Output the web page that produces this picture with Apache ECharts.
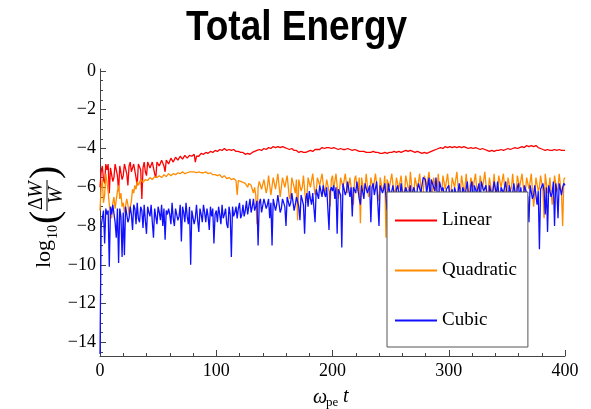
<!DOCTYPE html>
<html><head><meta charset="utf-8">
<script src="https://cdn.jsdelivr.net/npm/echarts@6/dist/echarts.min.js"></script>
<style>html,body{margin:0;padding:0;background:#fff}#c{width:591px;height:409px}</style>
</head><body><div id="c"></div>
<script>
const titleText = 'Total Energy';
const seriesNames = ['Linear', 'Quadratic', 'Cubic'];
const seriesColors = ['#ff0000', '#ff8c00', '#1010ff'];
const tStep = 1; // sample spacing in ω_pe t
const linear = [
-6.0,-5.2,-4.9,-5.6,-5.8,-4.8,-5.1,-4.8,-6.3,-5.0,-4.9,-5.7,-5.5,-4.8,-4.7,-5.4,-6.2,-4.9,-4.8,-5.6,
-5.4,-4.8,-4.7,-5.3,-5.9,-4.9,-4.7,-5.2,-5.3,-4.8,-4.8,-5.5,-5.9,-4.8,-4.7,-5.1,-6.6,-5.0,-4.7,-5.2,
-5.4,-4.7,-4.6,-5.0,-5.0,-4.7,-4.7,-5.3,-5.5,-4.7,-4.6,-4.9,-4.9,-4.6,-4.5,-4.9,-5.2,-4.6,-4.5,-4.8,
-4.8,-4.5,-4.4,-4.7,-4.7,-4.45,-4.4,-4.6,-4.6,-4.4,-4.35,-4.55,-4.5,-4.35,-4.3,-4.5,-4.45,-4.35,-4.3,-4.4,
-4.4,-4.3,-4.7,-4.4,-4.3,-4.4,-4.35,-4.25,-4.2,-4.3,-4.25,-4.2,-4.15,-4.25,-4.2,-4.15,-4.1,-4.2,-4.15,-4.1,
-4.05,-4.15,-4.15,-4.05,-4.05,-4.1,-4.1,-4.0,-4.0,-4.1,-4.1,-4.05,-4.05,-4.1,-4.1,-4.05,-4.1,-4.15,-4.2,-4.15,
-4.15,-4.2,-4.25,-4.2,-4.2,-4.3,-4.3,-4.25,-4.35,-4.3,-4.25,-4.2,-4.2,-4.15,-4.15,-4.1,-4.1,-4.05,-4.05,-4.1,
-4.1,-4.0,-4.0,-4.05,-4.05,-3.95,-3.95,-4.0,-4.0,-3.9,-3.9,-3.95,-3.95,-3.9,-3.9,-3.95,-3.95,-3.9,-3.9,-3.95,
-3.95,-4.0,-4.0,-4.05,-4.05,-4.0,-4.1,-4.1,-4.15,-4.1,-4.15,-4.2,-4.2,-4.15,-4.25,-4.2,-4.25,-4.2,-4.2,-4.15,
-4.15,-4.1,-4.1,-4.15,-4.15,-4.05,-4.1,-4.05,-4.0,-4.05,-4.0,-3.95,-4.0,-4.0,-3.95,-3.95,-4.0,-3.95,-3.95,-4.0,
-4.0,-3.95,-3.95,-4.0,-4.0,-4.05,-3.95,-4.0,-4.0,-4.05,-4.0,-4.05,-4.05,-4.0,-4.1,-4.05,-4.05,-4.1,-4.1,-4.05,
-4.1,-4.1,-4.05,-4.15,-4.1,-4.15,-4.1,-4.15,-4.15,-4.2,-4.1,-4.2,-4.15,-4.2,-4.2,-4.15,-4.2,-4.2,-4.15,-4.2,
-4.2,-4.25,-4.2,-4.25,-4.25,-4.2,-4.2,-4.25,-4.15,-4.2,-4.15,-4.2,-4.2,-4.15,-4.15,-4.2,-4.2,-4.15,-4.15,-4.2,
-4.2,-4.15,-4.15,-4.1,-4.1,-4.15,-4.15,-4.1,-4.1,-4.15,-4.15,-4.2,-4.2,-4.15,-4.15,-4.2,-4.2,-4.25,-4.25,-4.2,
-4.2,-4.25,-4.25,-4.2,-4.2,-4.15,-4.15,-4.1,-4.1,-4.05,-4.05,-4.0,-4.0,-3.95,-3.95,-4.0,-4.0,-3.9,-3.9,-3.95,
-3.95,-3.9,-3.9,-3.95,-3.95,-3.9,-3.9,-3.95,-3.95,-3.9,-3.9,-3.95,-3.95,-3.9,-3.9,-3.95,-3.95,-4.0,-4.0,-3.95,
-3.95,-4.0,-4.0,-3.95,-3.95,-4.0,-4.0,-4.05,-4.05,-4.0,-4.0,-4.05,-4.05,-4.1,-4.1,-4.15,-4.15,-4.1,-4.1,-4.15,
-4.15,-4.1,-4.1,-4.1,-4.1,-4.05,-4.05,-4.1,-4.1,-4.05,-4.05,-4.0,-4.0,-4.05,-4.05,-4.0,-4.0,-3.95,-3.95,-4.0,
-4.0,-3.95,-3.95,-3.9,-3.9,-3.95,-3.95,-3.85,-3.85,-3.9,-3.9,-3.85,-3.85,-3.9,-3.9,-3.85,-3.85,-3.95,-3.95,-4.0,
-4.0,-4.05,-4.05,-4.1,-4.1,-4.05,-4.05,-4.1,-4.1,-4.1,-4.1,-4.05,-4.05,-4.1,-4.1,-4.05,-4.05,-4.1,-4.1,-4.1,
-4.1];
const quadratic = [
-7.2,-6.0,-5.6,-6.8,-6.4,-5.3,-5.4,-6.2,-6.9,-7.3,-7.6,-6.8,-6.5,-7.1,-7.0,-6.2,-5.9,-6.6,-6.3,-7.0,
-6.8,-7.3,-7.2,-6.6,-6.9,-7.4,-7.3,-6.7,-6.1,-6.3,-5.9,-6.1,-5.7,-5.9,-5.8,-5.6,-5.6,-5.75,-5.65,-5.6,
-5.55,-5.65,-5.6,-5.5,-5.5,-5.6,-5.55,-5.45,-5.45,-5.5,-5.5,-5.4,-5.4,-5.5,-5.45,-5.35,-5.35,-5.45,-5.4,-5.3,
-5.3,-5.4,-5.35,-5.3,-5.3,-5.35,-5.3,-5.25,-5.25,-5.3,-5.3,-5.2,-5.25,-5.3,-5.2,-5.25,-5.25,-5.2,-5.25,-5.2,
-5.25,-5.2,-5.2,-5.25,-5.25,-5.2,-5.2,-5.25,-5.2,-5.25,-5.25,-5.2,-5.25,-5.3,-5.3,-5.25,-5.3,-5.35,-5.3,-5.35,
-5.35,-5.4,-5.4,-5.35,-5.45,-5.5,-5.45,-5.4,-5.5,-5.55,-5.55,-5.5,-5.5,-5.6,-5.6,-5.55,-5.6,-5.65,-6.4,-5.65,
-5.65,-5.7,-5.7,-5.75,-5.75,-5.8,-5.9,-6.0,-5.8,-5.85,-5.9,-6.1,-6.3,-6.0,-6.4,-7.9,-6.0,-5.7,-5.6,-6.1,
-6.2,-5.6,-5.5,-6.3,-6.0,-5.4,-5.5,-6.4,-6.4,-5.5,-5.5,-6.1,-6.1,-5.3,-5.4,-6.5,-6.5,-5.5,-5.4,-6.0,
-5.9,-5.4,-5.5,-6.6,-6.4,-5.5,-5.6,-6.0,-6.3,-5.6,-7.7,-5.6,-5.5,-6.2,-6.0,-5.4,-5.5,-6.8,-6.5,-5.5,
-5.5,-6.0,-6.1,-5.3,-5.4,-6.4,-6.2,-5.5,-5.5,-5.9,-6.0,-5.3,-5.3,-6.3,-6.1,-5.6,-5.5,-6.2,-7.0,-5.6,
-5.4,-6.1,-6.0,-5.3,-5.4,-6.6,-6.2,-5.5,-5.4,-6.0,-6.1,-5.3,-5.3,-6.3,-6.2,-5.5,-5.5,-6.5,-6.9,-5.6,
-5.4,-6.0,-6.2,-5.5,-7.85,-5.5,-5.4,-6.2,-6.0,-5.3,-5.3,-6.5,-6.3,-5.5,-5.5,-6.1,-6.0,-5.3,-5.3,-6.4,
-6.7,-5.5,-5.5,-6.2,-6.0,-5.4,-8.6,-5.6,-5.6,-6.0,-6.1,-5.3,-5.3,-6.4,-6.2,-5.5,-5.5,-6.1,-6.0,-5.4,
-5.3,-6.6,-6.3,-5.4,-5.4,-6.0,-6.2,-5.2,-5.3,-6.5,-6.3,-5.5,-5.5,-6.1,-6.0,-5.3,-5.3,-6.8,-6.4,-5.4,
-5.4,-6.0,-6.1,-5.2,-5.3,-6.4,-6.2,-5.5,-5.5,-6.2,-6.0,-5.3,-5.3,-6.9,-6.3,-5.4,-5.4,-6.1,-6.0,-5.3,
-5.3,-6.5,-6.2,-5.5,-5.5,-6.0,-6.1,-5.2,-5.3,-6.7,-6.3,-5.4,-5.4,-6.2,-6.0,-5.3,-5.3,-6.6,-6.2,-5.5,
-5.5,-6.0,-6.1,-5.3,-5.3,-6.8,-6.3,-5.4,-5.4,-6.1,-6.0,-5.2,-5.2,-6.5,-6.2,-5.5,-5.5,-6.3,-6.1,-5.3,
-5.3,-7.0,-6.2,-5.4,-5.4,-6.0,-6.1,-5.3,-5.3,-6.6,-6.3,-5.5,-5.5,-6.2,-6.0,-5.3,-5.3,-6.8,-6.3,-5.4,
-5.4,-6.0,-6.1,-5.3,-5.3,-6.5,-6.2,-5.5,-5.5,-6.1,-6.0,-5.3,-5.3,-7.0,-6.4,-5.5,-5.5,-6.2,-6.0,-5.4,
-5.4,-6.2,-7.6,-5.3,-5.3,-6.3,-6.1,-5.5,-5.5,-6.9,-6.3,-5.4,-5.4,-6.2,-6.0,-5.3,-5.3,-6.4,-8.0,-5.6,
-5.5];
const cubic = [
-14.6,-8.0,-7.6,-7.2,-8.9,-7.1,-7.4,-7.2,-10.1,-7.0,-7.4,-6.9,-7.0,-7.8,-8.6,-7.1,-9.9,-7.1,-7.5,-9.6,
-7.3,-9.5,-7.0,-6.9,-7.8,-7.6,-7.0,-7.4,-8.2,-6.9,-7.1,-7.9,-6.8,-7.6,-7.8,-7.0,-7.2,-8.1,-6.9,-7.7,
-8.4,-7.0,-7.3,-7.5,-6.9,-7.8,-8.6,-7.1,-7.2,-7.9,-7.0,-7.3,-7.7,-6.9,-8.0,-7.1,-8.7,-7.2,-7.4,-7.1,
-7.4,-7.9,-6.8,-7.6,-8.0,-7.1,-7.2,-7.7,-7.5,-6.9,-8.8,-7.0,-7.3,-7.8,-6.8,-7.5,-7.9,-7.0,-10.0,-7.2,
-7.2,-7.9,-7.6,-6.9,-7.7,-8.3,-7.1,-7.4,-7.8,-6.9,-7.3,-7.8,-7.1,-7.5,-8.2,-7.0,-7.5,-7.1,-8.9,-7.4,
-7.2,-7.8,-7.0,-7.4,-7.9,-6.9,-7.6,-7.4,-7.1,-7.9,-8.1,-7.0,-7.4,-9.6,-7.0,-7.5,-7.3,-7.0,-7.6,-7.1,
-6.8,-7.6,-7.4,-6.9,-7.5,-7.2,-6.7,-7.4,-7.0,-6.6,-7.3,-7.0,-6.6,-7.2,-7.0,-6.7,-9.0,-6.8,-6.6,-7.3,
-7.2,-6.6,-6.5,-7.1,-6.9,-6.6,-7.6,-6.8,-9.0,-6.6,-6.6,-7.2,-6.9,-6.4,-6.5,-7.3,-7.1,-6.6,-6.5,-7.0,
-8.0,-6.5,-6.5,-7.0,-6.8,-6.3,-6.4,-7.2,-6.9,-6.5,-6.5,-7.0,-7.7,-6.4,-6.4,-6.9,-8.4,-6.6,-6.3,-7.0,
-6.2,-6.6,-6.9,-6.3,-6.4,-7.8,-6.1,-6.2,-6.6,-5.9,-6.0,-6.5,-5.9,-6.3,-6.5,-6.0,-6.0,-8.2,-6.2,-6.0,
-6.2,-5.9,-6.6,-6.0,-8.4,-6.1,-6.0,-6.4,-9.1,-5.8,-5.8,-6.4,-6.2,-5.7,-5.8,-6.5,-6.0,-7.5,-6.0,-5.9,
-6.3,-5.7,-5.8,-6.6,-6.9,-5.9,-5.9,-6.6,-5.8,-5.8,-6.3,-6.4,-5.9,-7.8,-6.0,-5.8,-6.4,-6.3,-5.7,-5.8,
-8.0,-5.9,-5.8,-6.3,-6.1,-5.8,-6.5,-7.2,-5.8,-5.9,-6.5,-6.2,-5.9,-6.4,-7.0,-6.1,-5.9,-6.3,-6.5,-5.8,
-5.8,-6.8,-6.3,-6.0,-5.9,-6.4,-6.2,-5.9,-7.1,-6.2,-6.0,-6.0,-6.6,-6.1,-5.8,-5.7,-6.3,-6.2,-5.5,-5.6,
-5.6,-6.3,-6.2,-5.5,-6.8,-5.6,-5.6,-6.0,-6.2,-5.5,-5.6,-7.0,-5.7,-5.8,-6.2,-6.0,-5.9,-6.6,-6.1,-6.1,
-5.9,-6.6,-6.3,-6.1,-7.3,-6.0,-6.0,-6.5,-6.2,-5.8,-5.9,-6.9,-6.0,-6.0,-6.4,-6.3,-5.7,-5.8,-7.2,-5.9,
-5.7,-7.2,-5.9,-6.0,-6.3,-6.2,-5.8,-6.8,-5.7,-5.7,-6.2,-6.3,-5.9,-6.0,-7.5,-5.9,-5.8,-6.4,-6.2,-5.7,
-5.8,-6.4,-5.7,-5.8,-6.9,-6.0,-6.0,-6.3,-6.2,-5.7,-5.8,-7.1,-5.9,-5.9,-6.5,-6.3,-5.8,-5.9,-6.7,-6.0,
-5.8,-6.7,-6.0,-6.1,-7.4,-5.9,-5.9,-6.3,-6.5,-7.8,-5.9,-5.8,-6.6,-6.4,-5.9,-6.0,-6.9,-6.2,-9.2,-6.1,
-6.1,-5.8,-6.2,-7.4,-6.0,-8.3,-5.9,-5.9,-6.5,-6.3,-5.7,-8.0,-5.8,-6.2,-7.6,-5.8,-5.9,-6.4,-6.0,-5.8,
-5.9];
const xTicks = [0, 100, 200, 300, 400];
const yTicks = [0, -2, -4, -6, -8, -10, -12, -14];
const yMinorTicks = [-0.5, -1, -1.5, -2.5, -3, -3.5, -4.5, -5, -5.5, -6.5, -7, -7.5,
  -8.5, -9, -9.5, -10.5, -11, -11.5, -12.5, -13, -13.5, -14.5];

const serif = '"Liberation Serif", "Times New Roman", serif';
const axisColor = '#444';

function pairs(arr) { return arr.map((v, i) => [i * tStep, v]); }
const allSeries = [linear, quadratic, cubic];

const chart = echarts.init(document.getElementById('c'), null, { renderer: 'canvas' });
chart.setOption({
  animation: false,
  backgroundColor: '#fff',
  grid: { left: 100, right: 26, top: 69, bottom: 53, containLabel: false },
  xAxis: {
    type: 'value', min: xTicks[0], max: xTicks[xTicks.length - 1], interval: 100,
    axisLine: { onZero: false, lineStyle: { color: axisColor, width: 1 } },
    axisTick: { inside: true, length: 6, lineStyle: { color: axisColor } },
    minorTick: { show: true, splitNumber: 5, length: 3, lineStyle: { color: axisColor } },
    splitLine: { show: false },
    axisLabel: { fontFamily: serif, fontSize: 18, color: '#000', margin: 6 }
  },
  yAxis: [{
    type: 'value', min: -14.7, max: 0.1,
    axisLine: { show: true, onZero: false, lineStyle: { color: axisColor, width: 1 } },
    axisTick: { show: true, inside: true, length: 6, customValues: yTicks, lineStyle: { color: axisColor } },
    splitLine: { show: false },
    axisLabel: {
      customValues: yTicks, fontFamily: serif, fontSize: 18, color: '#000', margin: 4,
      formatter: v => (v === 0 ? '0' : '\u2212' + Math.abs(v))
    }
  }, {
    type: 'value', min: -14.7, max: 0.1, position: 'left',
    axisLine: { show: false, onZero: false },
    axisTick: { show: true, inside: true, length: 3, customValues: yMinorTicks, lineStyle: { color: axisColor } },
    axisLabel: { show: false },
    splitLine: { show: false }
  }],
  legend: {
    orient: 'vertical', left: 387, top: 192, z: 10,
    itemWidth: 42, itemHeight: 14, itemGap: 31,
    padding: [19, 11, 17, 8],
    icon: 'path://M0,0L42,0L42,2L0,2Z',
    backgroundColor: '#fff', borderColor: '#555', borderWidth: 1,
    textStyle: { fontFamily: serif, fontSize: 19, color: '#000' },
    data: seriesNames
  },
  series: allSeries.map((arr, k) => ({
    name: seriesNames[k], type: 'line', data: pairs(arr),
    symbol: 'none', showSymbol: false, sampling: null,
    lineStyle: { color: seriesColors[k], width: 1.3 },
    itemStyle: { color: seriesColors[k] },
    z: 2 + k
  })),
  graphic: [
    { type: 'text', x: 296.5, y: 28, scaleX: 0.86, z: 20,
      style: { text: titleText, font: 'bold 43px "Liberation Sans", Arial, sans-serif', fill: '#000',
        textAlign: 'center', textVerticalAlign: 'middle' } },
    { type: 'group', x: 47, y: 216, rotation: Math.PI / 2, z: 20, children: [
      { type: 'text', x: -52, y: -3, style: { text: 'log', font: '22px ' + serif, fill: '#000', textAlign: 'left', textVerticalAlign: 'middle' } },
      { type: 'text', x: -23, y: 6, style: { text: '10', font: '14px ' + serif, fill: '#000', textAlign: 'left', textVerticalAlign: 'middle' } },
      { type: 'text', x: -8, y: -1, style: { text: '(', font: '40px ' + serif, fill: '#000', textAlign: 'left', textVerticalAlign: 'middle' } },
      { type: 'text', x: 6, y: -10, style: { text: '\u0394', font: '20px ' + serif, fill: '#000', textAlign: 'left', textVerticalAlign: 'middle' } },
      { type: 'text', x: 18, y: -10, style: { text: 'W', font: 'italic 20px ' + serif, fill: '#000', textAlign: 'left', textVerticalAlign: 'middle' } },
      { type: 'line', shape: { x1: 5, y1: 0, x2: 36, y2: 0 }, style: { stroke: '#000', lineWidth: 1 } },
      { type: 'text', x: 20.5, y: 10, style: { text: 'W', font: 'italic 20px ' + serif, fill: '#000', textAlign: 'center', textVerticalAlign: 'middle' } },
      { type: 'text', x: 37, y: -1, style: { text: ')', font: '40px ' + serif, fill: '#000', textAlign: 'left', textVerticalAlign: 'middle' } }
    ] },
    { type: 'text', x: 313, y: 398, z: 20, style: { text: '\u03C9', font: 'italic 20px ' + serif, fill: '#000', textAlign: 'left', textVerticalAlign: 'middle' } },
    { type: 'text', x: 326, y: 403, z: 20, style: { text: 'pe', font: '13px ' + serif, fill: '#000', textAlign: 'left', textVerticalAlign: 'middle' } },
    { type: 'text', x: 343, y: 397, z: 20, style: { text: 't', font: 'italic 20px ' + serif, fill: '#000', textAlign: 'left', textVerticalAlign: 'middle' } }
  ]
});
</script>
</body></html>
